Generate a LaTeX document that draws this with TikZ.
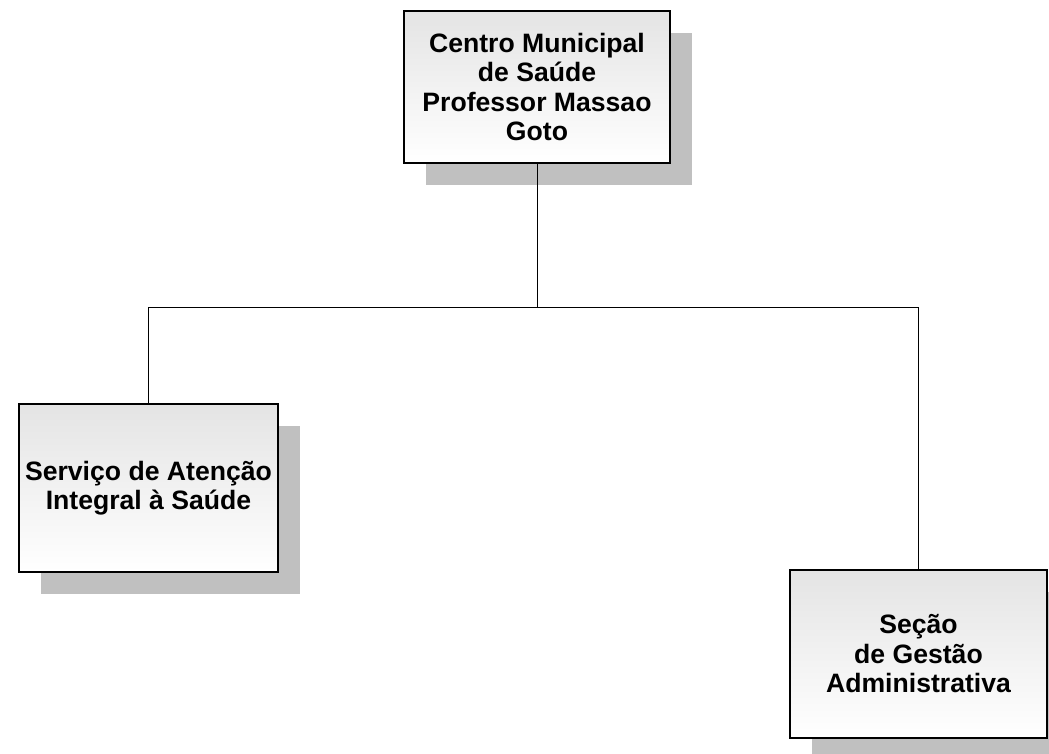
\documentclass[tikz,border=0pt]{standalone}
\usepackage{fontspec}
\setmainfont{Liberation Sans}
\usepackage{tikz}
\usetikzlibrary{shadows}
\definecolor{sombra}{RGB}{192,192,192}
\definecolor{topo}{RGB}{228,228,228}

\tikzset{
  caixa/.style={draw,line width=2pt,top color=topo,bottom color=white,
    align=center,inner sep=0pt,
    font=\fontsize{26.6}{29.5}\selectfont\bfseries,
    general shadow={fill=sombra,shadow xshift=22pt,shadow yshift=-22pt}},
  ligacao/.style={line width=1pt}
}

\begin{document}
\begin{tikzpicture}[x=1pt,y=-1pt]
  \useasboundingbox (0,0) rectangle (1049,754);
  % caixas
  \node[caixa,minimum width=266pt,minimum height=152pt] (centro) at (537,87)
    {Centro Municipal\\de Saúde\\Professor Massao\\Goto};
  \node[caixa,minimum width=259pt,minimum height=168pt] (atencao) at (148.5,488)
    {Serviço de Atenção\\Integral à Saúde};
  \node[caixa,minimum width=257pt,minimum height=168pt] (gestao) at (918.5,654)
    {Seção\\de Gestão\\Administrativa};
  % ligacoes
  \coordinate (barra) at (537,307);
  \draw[ligacao] (centro.south) -- (barra);
  \draw[ligacao] (atencao.north) -- (atencao.north |- barra) -- (gestao.north |- barra) -- (gestao.north);
\end{tikzpicture}
\end{document}
